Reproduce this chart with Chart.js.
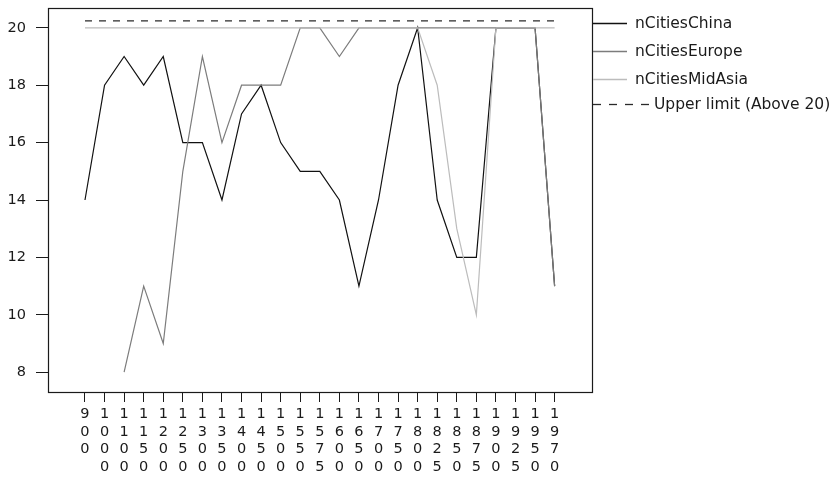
<!DOCTYPE html>
<html>
<head>
<meta charset="utf-8">
<script src="https://cdn.jsdelivr.net/npm/chart.js@4"></script>
<style>
  html, body { margin: 0; padding: 0; background: #fff; }
  #wrap { width: 834px; height: 493px; }
</style>
</head>
<body>
<div id="wrap"><canvas id="c" width="834" height="493"></canvas></div>
<script>
// Years on the category axis
const years = [900, 1000, 1100, 1150, 1200, 1250, 1300, 1350, 1400, 1450, 1500, 1550, 1575,
               1600, 1650, 1700, 1750, 1800, 1825, 1850, 1875, 1900, 1925, 1950, 1970];

// Number of cities in the top-20 list, by region
const nCitiesChina   = [14, 18, 19, 18, 19, 16, 16, 14, 17, 18, 16, 15, 15,
                        14, 11, 14, 18, 20, 14, 12, 12, 20, 20, 20, 11];
const nCitiesEurope  = [null, null, 8, 11, 9, 15, 19, 16, 18, 18, 18, 20, 20,
                        19, 20, 20, 20, 20, 20, 20, 20, 20, 20, 20, 11];
const nCitiesMidAsia = [20, 20, 20, 20, 20, 20, 20, 20, 20, 20, 20, 20, 20,
                        20, 20, 20, 20, 20, 18, 13, 10, 20, 20, 20, 20];
const upperLimit     = [20.24, 20.24, 20.24, 20.24, 20.24, 20.24, 20.24, 20.24, 20.24, 20.24, 20.24, 20.24, 20.24,
                        20.24, 20.24, 20.24, 20.24, 20.24, 20.24, 20.24, 20.24, 20.24, 20.24, 20.24, 20.24];

const yTicks = [8, 10, 12, 14, 16, 18, 20];

const seriesNames  = ['nCitiesChina', 'nCitiesEurope', 'nCitiesMidAsia', 'Upper limit (Above 20)'];
const seriesValues = [nCitiesChina, nCitiesEurope, nCitiesMidAsia, upperLimit];
const seriesColors = ['#111111', '#7c7c7c', '#bcbcbc', '#2a2a2a'];
const seriesDash   = [[], [], [], [8, 8]];

const FONT = 'DejaVu Sans';
const INK = '#1a1a1a';

const datasets = seriesNames.map((name, k) => ({
  label: name,
  data: seriesValues[k].map((v, i) => ({ x: i, y: v })),
  borderColor: seriesColors[k],
  borderWidth: k === 3 ? 1.3 : 1.2,
  borderDash: k === 3 ? [7, 7] : [],
  pointRadius: 0,
  tension: 0,
  fill: false,
  spanGaps: false,
  order: seriesNames.length - k   // later series are drawn on top
}));

// Frame around the plotting region
const framePlugin = {
  id: 'frame',
  afterDraw(chart) {
    const { ctx, chartArea: a } = chart;
    ctx.save();
    ctx.strokeStyle = INK;
    ctx.lineWidth = 1.2;
    ctx.strokeRect(Math.round(a.left) + 0.5, Math.round(a.top) + 0.5,
                   Math.round(a.right - a.left), Math.round(a.bottom - a.top));
    ctx.restore();
  }
};

// Legend placed to the right of the frame, lines attached to its edge
const sideLegend = {
  id: 'sideLegend',
  afterDraw(chart) {
    const { ctx, chartArea: a } = chart;
    const rows = [23, 51, 79, 104];
    ctx.save();
    ctx.font = '15.5px "' + FONT + '"';
    ctx.textBaseline = 'middle';
    ctx.fillStyle = INK;
    chart.data.datasets.forEach((ds, k) => {
      const y = rows[k] + 0.5;
      const x0 = a.right + 1;
      const x1 = k === 3 ? x0 + 56 : x0 + 34;
      ctx.beginPath();
      ctx.strokeStyle = ds.borderColor;
      ctx.lineWidth = 1.3;
      ctx.setLineDash(seriesDash[k]);
      ctx.moveTo(x0, y);
      ctx.lineTo(x1, y);
      ctx.stroke();
      ctx.setLineDash([]);
      ctx.fillText(ds.label, x1 + (k === 3 ? 5 : 8), rows[k] + 1);
    });
    ctx.restore();
  }
};

new Chart(document.getElementById('c'), {
  type: 'line',
  data: { datasets },
  plugins: [framePlugin, sideLegend],
  options: {
    responsive: false,
    devicePixelRatio: 1,
    animation: false,
    events: [],
    layout: { padding: { top: 8, right: 242, left: 0, bottom: 0 } },
    plugins: { legend: { display: false }, tooltip: { enabled: false } },
    scales: {
      x: {
        type: 'linear',
        min: -1.89,
        max: 25.91,
        afterBuildTicks(s) { s.ticks = years.map((_, i) => ({ value: i })); },
        afterFit(s) { s.height = 101; s.paddingLeft = 0; s.paddingRight = 0; },
        ticks: {
          autoSkip: false,
          maxRotation: 0,
          minRotation: 0,
          padding: 4,
          color: INK,
          font: { family: FONT, size: 14.5, lineHeight: 1.2 },
          callback: (v) => String(years[v]).split('')
        },
        grid: { display: true, drawOnChartArea: false, drawTicks: true, tickLength: 10, color: INK, lineWidth: 1 },
        border: { display: false }
      },
      y: {
        type: 'linear',
        min: 7.31,
        max: 20.69,
        afterBuildTicks(s) { s.ticks = yTicks.map(v => ({ value: v })); },
        afterFit(s) { s.width = 48; s.paddingTop = 0; s.paddingBottom = 0; },
        ticks: {
          padding: 10,
          color: INK,
          font: { family: FONT, size: 14.5 }
        },
        grid: { display: true, drawOnChartArea: false, drawTicks: true, tickLength: 12, color: INK, lineWidth: 1 },
        border: { display: false }
      }
    }
  }
});
</script>
</body>
</html>
